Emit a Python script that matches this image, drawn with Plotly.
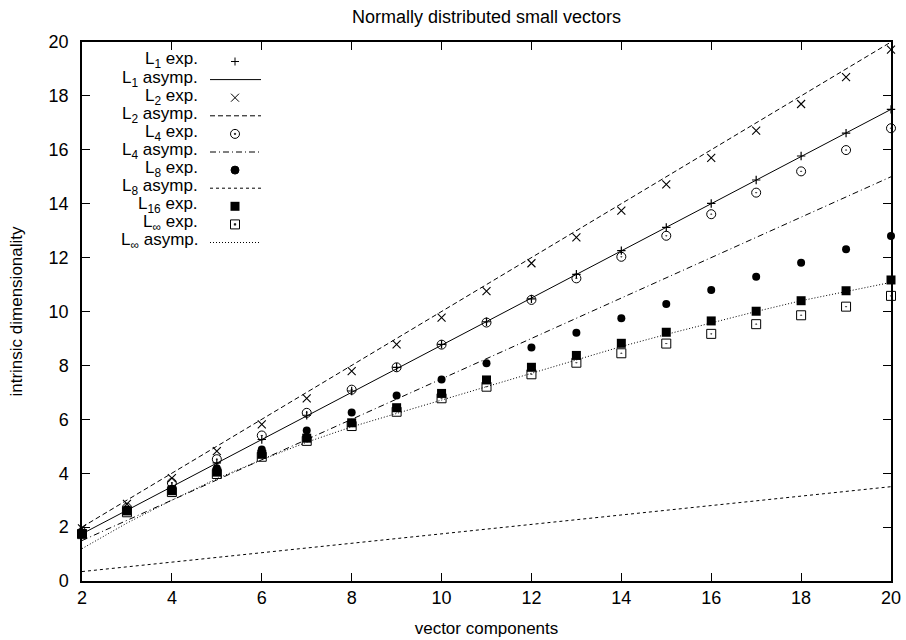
import plotly.graph_objects as go

# ---------------- data ----------------
x_vals = [2, 3, 4, 5, 6, 7, 8, 9, 10, 11, 12, 13, 14, 15, 16, 17, 18, 19, 20]

l1_exp = [1.75, 2.63, 3.52, 4.38, 5.25, 6.15, 7.05, 7.93, 8.78, 9.62, 10.47,
          11.38, 12.26, 13.12, 14.01, 14.88, 15.77, 16.62, 17.50]
l2_exp = [1.95, 2.86, 3.82, 4.82, 5.81, 6.78, 7.79, 8.78, 9.77, 10.76, 11.79,
          12.75, 13.74, 14.72, 15.70, 16.71, 17.70, 18.70, 19.72]
l4_exp = [1.82, 2.72, 3.64, 4.52, 5.40, 6.24, 7.10, 7.93, 8.77, 9.59, 10.43,
          11.23, 12.03, 12.81, 13.61, 14.41, 15.20, 15.99, 16.80]
l8_exp = [1.78, 2.65, 3.42, 4.18, 4.88, 5.58, 6.25, 6.88, 7.48, 8.08, 8.66,
          9.21, 9.75, 10.28, 10.80, 11.29, 11.81, 12.31, 12.80]
l16_exp = [1.76, 2.60, 3.35, 4.04, 4.70, 5.30, 5.87, 6.43, 6.96, 7.46, 7.93,
           8.37, 8.82, 9.23, 9.65, 10.01, 10.40, 10.77, 11.17]
linf_exp = [1.74, 2.55, 3.30, 3.97, 4.61, 5.20, 5.75, 6.28, 6.78, 7.21, 7.67,
            8.10, 8.45, 8.81, 9.17, 9.53, 9.86, 10.18, 10.58]

asym_x = [2, 20]
l1_asym = [1.75, 17.5]
l2_asym = [2.0, 20.0]
l4_asym = [1.5, 15.0]
l8_asym = [0.35, 3.5]
linf_asym = [1.20, 2.15, 3.00, 3.80, 4.50, 5.15, 5.72, 6.22, 6.72, 7.20, 7.70,
             8.20, 8.70, 9.15, 9.58, 10.00, 10.40, 10.75, 11.08]

x_ticks = [2, 4, 6, 8, 10, 12, 14, 16, 18, 20]
y_ticks = [0, 2, 4, 6, 8, 10, 12, 14, 16, 18, 20]

title_text = "Normally distributed small vectors"
x_title = "vector components"
y_title = "intrinsic dimensionality"

legend_labels = ["L<sub>1</sub> exp.", "L<sub>1</sub> asymp.", "L<sub>2</sub> exp.",
                 "L<sub>2</sub> asymp.", "L<sub>4</sub> exp.", "L<sub>4</sub> asymp.",
                 "L<sub>8</sub> exp.", "L<sub>8</sub> asymp.", "L<sub>16</sub> exp.",
                 "L<sub>∞</sub> exp.", "L<sub>∞</sub> asymp."]

# ---------------- figure ----------------
W, H = 906, 640
ML, MR, MT, MB = 82, 15, 42, 59
PW, PH = W - ML - MR, H - MT - MB
FONT = "Liberation Sans, Arial, Helvetica, sans-serif"
BLACK = "#000000"


def px_x(p):
    return (p - ML) / PW


def px_y(p):
    return (H - MB - p) / PH


fig = go.Figure()

# asymptotic lines
line_specs = [
    (asym_x, l1_asym, "solid"),
    (asym_x, l2_asym, "5px,3px"),
    (asym_x, l4_asym, "6px,3px,1px,3px"),
    (asym_x, l8_asym, "3px,3px"),
    (x_vals, linf_asym, "1px,2px"),
]
for xs, ys, dash in line_specs:
    fig.add_trace(go.Scatter(x=xs, y=ys, mode="lines", cliponaxis=False,
                             line=dict(color=BLACK, width=1, dash=dash),
                             showlegend=False, hoverinfo="skip"))

# experimental points
marker_specs = [
    (l1_exp, "cross-thin", 6, 1.2),
    (l2_exp, "x-thin", 8, 1.1),
    (l4_exp, "circle-open-dot", 9, 1.0),
    (l8_exp, "circle", 8, 0),
    (l16_exp, "square", 9, 0),
    (linf_exp, "square-open-dot", 9, 1.0),
]
for ys, sym, size, lw in marker_specs:
    fig.add_trace(go.Scatter(x=x_vals, y=ys, mode="markers", cliponaxis=False,
                             marker=dict(symbol=sym, size=size, color=BLACK,
                                         line=dict(color=BLACK, width=lw)),
                             showlegend=False))

# ---------------- custom gnuplot-style legend ----------------
text_right = px_x(200)
mark_cx = px_x(235)
line_x0, line_x1 = px_x(210), px_x(261)
row0, row_step = 61.5, 18.1

kinds = ["+", "solid", "x", "5px,3px", "od", "6px,3px,1px,3px", "fc",
         "3px,3px", "fs", "osd", "1px,2px"]
for i, (lab, kind) in enumerate(zip(legend_labels, kinds)):
    yy = px_y(row0 + row_step * i)
    fig.add_annotation(x=text_right, y=px_y(row0 + row_step * i - 1.0),
                       xref="paper", yref="paper", text=lab, showarrow=False,
                       xanchor="right", yanchor="middle",
                       font=dict(family=FONT, size=17, color=BLACK))
    common = dict(xref="paper", yref="paper", xsizemode="pixel", ysizemode="pixel",
                  xanchor=mark_cx, yanchor=yy)
    if kind == "+":
        fig.add_shape(type="line", x0=-4, x1=4, y0=0, y1=0, line=dict(color=BLACK, width=1), **common)
        fig.add_shape(type="line", x0=0, x1=0, y0=-4, y1=4, line=dict(color=BLACK, width=1), **common)
    elif kind == "x":
        fig.add_shape(type="line", x0=-4, x1=4, y0=-4, y1=4, line=dict(color=BLACK, width=1), **common)
        fig.add_shape(type="line", x0=-4, x1=4, y0=4, y1=-4, line=dict(color=BLACK, width=1), **common)
    elif kind == "od":
        fig.add_shape(type="circle", x0=-4.5, x1=4.5, y0=-4.5, y1=4.5, line=dict(color=BLACK, width=1), **common)
        fig.add_shape(type="circle", x0=-0.8, x1=0.8, y0=-0.8, y1=0.8, fillcolor=BLACK, line=dict(color=BLACK, width=0.5), **common)
    elif kind == "fc":
        fig.add_shape(type="circle", x0=-4, x1=4, y0=-4, y1=4, fillcolor=BLACK, line=dict(color=BLACK, width=1), **common)
    elif kind == "fs":
        fig.add_shape(type="rect", x0=-4.5, x1=4.5, y0=-4.5, y1=4.5, fillcolor=BLACK, line=dict(color=BLACK, width=0), **common)
    elif kind == "osd":
        fig.add_shape(type="rect", x0=-4.5, x1=4.5, y0=-4.5, y1=4.5, line=dict(color=BLACK, width=1), **common)
        fig.add_shape(type="rect", x0=-0.8, x1=0.8, y0=-0.8, y1=0.8, fillcolor=BLACK, line=dict(color=BLACK, width=0.5), **common)
    else:
        fig.add_shape(type="line", x0=line_x0, x1=line_x1, y0=yy, y1=yy,
                      xref="paper", yref="paper",
                      line=dict(color=BLACK, width=1, dash=kind))

axis_common = dict(showgrid=False, zeroline=False, showline=True, linecolor=BLACK,
                   linewidth=1.5, mirror="ticks", ticks="inside", ticklen=8,
                   tickwidth=1, tickcolor=BLACK, automargin=False,
                   tickfont=dict(family=FONT, size=18, color=BLACK))

fig.update_layout(
    width=W, height=H,
    margin=dict(l=ML, r=MR, t=MT, b=MB, autoexpand=False),
    paper_bgcolor="white", plot_bgcolor="white",
    font=dict(family=FONT, size=17, color=BLACK),
    title=dict(text=title_text, x=0.5, xref="paper", xanchor="center",
               y=1 - 17 / H, yref="container", yanchor="middle",
               font=dict(family=FONT, size=18, color=BLACK)),
    xaxis=dict(range=[2, 20], tickvals=x_ticks, ticklabelstandoff=0,
               title=dict(text=x_title, standoff=15,
                          font=dict(family=FONT, size=17, color=BLACK)),
               **axis_common),
    yaxis=dict(range=[0, 20], tickvals=y_ticks, ticklabelstandoff=8,
               title=dict(text=y_title, standoff=22,
                          font=dict(family=FONT, size=17, color=BLACK)),
               **axis_common),
)

fig.write_html("out.html", config={"displayModeBar": False},
               post_script="document.body.style.margin='0';document.body.style.overflow='hidden';")
